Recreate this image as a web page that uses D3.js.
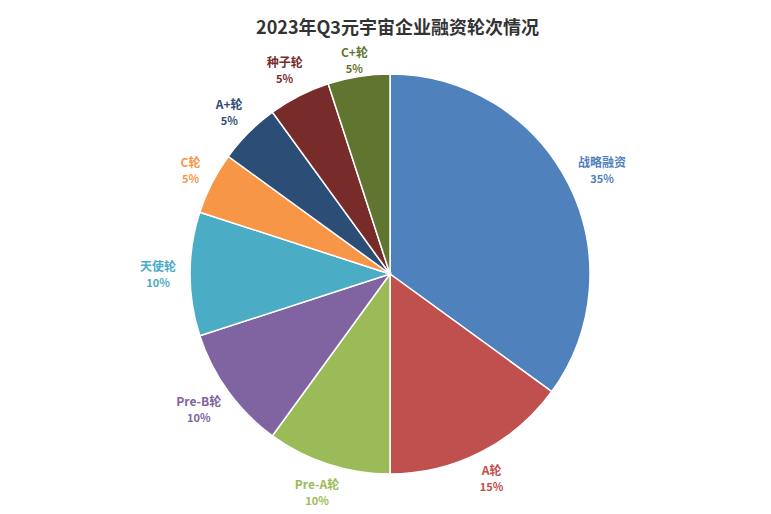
<!DOCTYPE html>
<html>
<head>
<meta charset="utf-8">
<script src="https://cdn.jsdelivr.net/npm/d3@7"></script>
<style>
  body { margin: 0; background: #fff; }
  text { font-family: "Noto Sans CJK SC", "Liberation Sans", sans-serif; }
</style>
</head>
<body>
<svg id="chart"></svg>
<script>
const rounds = ['战略融资', 'A轮', 'Pre-A轮', 'Pre-B轮', '天使轮', 'C轮', 'A+轮', '种子轮', 'C+轮']
const shares = [35, 15, 10, 10, 10, 5, 5, 5, 5]
const colors = ['#4F81BD', '#C0504D', '#9BBB59', '#8064A2', '#4BACC6', '#F79646', '#2C4D75', '#772C2A', '#5F7530']

buildPie()

function buildPie() {
    const width = 771
    const height = 514
    const cx = 390
    const cy = 274
    const radius = 200

    const svg = d3.select('#chart')
        .attr('width', width)
        .attr('height', height)

    svg.append('text')
        .attr('x', width / 2 + 12)
        .attr('y', 34)
        .attr('text-anchor', 'middle')
        .style('font-size', '18px')
        .style('font-weight', 'bold')
        .style('fill', '#333')
        .text('2023年Q3元宇宙企业融资轮次情况')

    const data = rounds.map((name, i) => ({ name, value: shares[i], color: colors[i] }))

    const pie = d3.pie().value(d => d.value).sort(null)
    const arc = d3.arc().innerRadius(0).outerRadius(radius)

    const g = svg.append('g').attr('transform', `translate(${cx},${cy})`)
    const arcs = pie(data)

    g.selectAll('path')
        .data(arcs)
        .join('path')
        .attr('d', arc)
        .style('fill', d => d.data.color)
        .style('stroke', '#fff')
        .style('stroke-width', 1.5)

    const labels = g.selectAll('g.label')
        .data(arcs)
        .join('g')
        .attr('class', 'label')

    labels.each(function(d) {
        const sel = d3.select(this)
        const mid = (d.startAngle + d.endAngle) / 2
        const name = sel.append('text')
            .attr('text-anchor', 'middle')
            .attr('y', -3)
            .style('font-size', '12px')
            .style('font-weight', 'bold')
            .style('fill', d.data.color)
            .text(d.data.name)
        sel.append('text')
            .attr('text-anchor', 'middle')
            .attr('y', 13)
            .style('font-size', '11px')
            .style('font-weight', 'bold')
            .style('fill', d.data.color)
            .text(d.data.value + '%')
        // label box sits just outside the rim; keep it below the title
        const w = name.node().getComputedTextLength()
        const x = (214 + w / 2) * Math.sin(mid)
        const y = Math.max(-214, -229 * Math.cos(mid))
        sel.attr('transform', `translate(${x},${y})`)
    })
}
</script>
</body>
</html>
